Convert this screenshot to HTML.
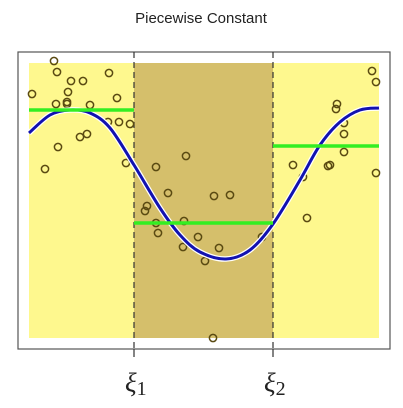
<!DOCTYPE html>
<html><head><meta charset="utf-8"><style>
html,body{margin:0;padding:0;background:#fff;width:403px;height:408px;overflow:hidden}
</style></head><body>
<svg id="chart" width="403" height="408" xmlns="http://www.w3.org/2000/svg">
<text x="201" y="23" text-anchor="middle" font-family="Liberation Sans, sans-serif" font-size="15" fill="#222">Piecewise Constant</text>
<g id="plot"></g>
</svg>
<script>
// data in plot units: x 0..350, y 0..275
const knots = [105, 244];
const knotLabels = ['1', '2'];
const stepValues = [228, 115, 192];
const pointsX = [25,28,3,42,54,80,39,27,38,38,61,88,79,90,101,51,58,29,16,97,127,157,139,118,116,127,129,155,169,154,176,185,184,201,190,233,343,347,308,307,315,315,315,264,301,299,274,347,278];
const pointsY = [277,266,244,257,257,265,246,234,236,234,233,240,216,216,214,201,204,191,169,175,171,182,145,132,127,115,105,117,101,91,77,142,0,143,90,101,267,256,234,229,215,204,186,173,173,172,161,165,120];
const curveX = [0,21,41,61,81,105,131,151,171,197,221,244,271,291,311,331,350];
const curveY = [205,223,228,225,210,173,130,103,86,79,88,114,158,193,216,228,230];

const X0=29, X1=379, Y0=338, Y1=63;
const xs = v => X0 + v*(X1-X0)/350;
const ys = v => Y0 - v*(Y0-Y1)/275;
const NS='http://www.w3.org/2000/svg';
const g=document.getElementById('plot');
function mk(tag, attrs){const e=document.createElementNS(NS,tag);for(const k in attrs)e.setAttribute(k,attrs[k]);g.appendChild(e);return e;}

const edges=[0,...knots,350];
const fills=['#fef88e','#d5bf6b','#fef88e'];
for(let i=0;i<3;i++){
  const r=mk('rect',{x:xs(edges[i]),y:Y1,width:xs(edges[i+1])-xs(edges[i]),height:Y0-Y1,fill:fills[i]});
  
  
}
const fr=mk('rect',{x:18,y:52,width:372,height:297,fill:'none',stroke:'#555','stroke-width':1.2});


knots.forEach((k,i)=>{
  const l=mk('line',{x1:xs(k),x2:xs(k),y1:52,y2:349,stroke:'#333','stroke-width':1.2,'stroke-dasharray':'6,4'});
  
  
  const t=mk('line',{x1:xs(k),x2:xs(k),y1:349,y2:357,stroke:'#333','stroke-width':1.2});
  
  
  const tx=mk('text',{x:xs(k)-9,y:392,'font-family':'Liberation Serif, serif','font-size':27,'font-style':'italic',fill:'#222'});
  
  
  tx.textContent='\u03BE';
  const sb=mk('tspan',{'font-size':20,'font-style':'normal',dy:3});
  sb.textContent=knotLabels[i];
  tx.appendChild(sb);
});
for(let i=0;i<pointsX.length;i++){
  const c=mk('circle',{cx:xs(pointsX[i]),cy:ys(pointsY[i]),r:3.6,fill:'none',stroke:'#5a4a12','stroke-width':1.5});
  
  
}
// smooth curve (Catmull-Rom)
const P=curveX.map((x,i)=>[xs(x),ys(curveY[i])]);
let d='M'+P[0][0].toFixed(1)+','+P[0][1].toFixed(1);
for(let i=0;i<P.length-1;i++){
  const p0=P[Math.max(i-1,0)],p1=P[i],p2=P[i+1],p3=P[Math.min(i+2,P.length-1)];
  const c1=[p1[0]+(p2[0]-p0[0])/6,p1[1]+(p2[1]-p0[1])/6];
  const c2=[p2[0]-(p3[0]-p1[0])/6,p2[1]-(p3[1]-p1[1])/6];
  d+='C'+c1.map(v=>v.toFixed(1)).join(',')+' '+c2.map(v=>v.toFixed(1)).join(',')+' '+p2.map(v=>v.toFixed(1)).join(',');
}
const cv=mk('path',{d:d,fill:'none',stroke:'#fff','stroke-width':5.5,'stroke-linejoin':'round'});


const cv2=mk('path',{d:d,fill:'none',stroke:'#1212b0','stroke-width':3,'stroke-linejoin':'round'});


stepValues.forEach((v,i)=>{
  const s=mk('line',{x1:xs(edges[i]),x2:xs(edges[i+1]),y1:ys(v),y2:ys(v),stroke:'#33ee22','stroke-width':3.5});
  
  
});
</script>
</body></html>
